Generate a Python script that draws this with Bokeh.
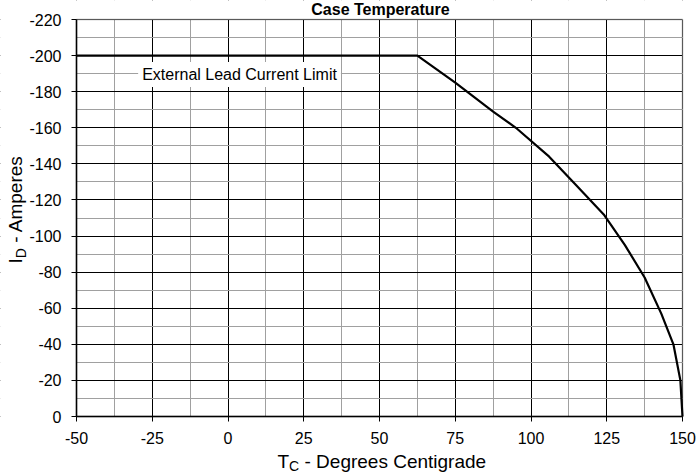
from math import pi
from bokeh.plotting import figure
from bokeh.models import Range1d, FixedTicker, Label, BoxAnnotation
from bokeh.embed import file_html
from bokeh.resources import INLINE

# ---- data ----
tc_deg = [-50, 62.5, 75, 87.5, 95, 106, 115, 124, 131, 137.5, 143, 147, 149.3, 150]
id_amps = [-200, -200, -185, -169, -160, -144, -128, -112, -95, -77, -57, -40, -20, 0]

x_ticks = [-50, -25, 0, 25, 50, 75, 100, 125, 150]
x_minor = [-50, -37.5, -25, -12.5, 0, 12.5, 25, 37.5, 50, 62.5, 75, 87.5, 100, 112.5, 125, 137.5, 150]
y_ticks = [0, -20, -40, -60, -80, -100, -120, -140, -160, -180, -200, -220]
y_minor = [0, -10, -20, -30, -40, -50, -60, -70, -80, -90, -100, -110, -120, -130, -140,
           -150, -160, -170, -180, -190, -200, -210, -220]

x_lo, x_hi = -50, 150
y_lo, y_hi = 0, -220

title_text = "Case Temperature"
limit_text = "External Lead Current Limit"
limit_x, limit_y = 3.8, -189.5

FONT = "Liberation Sans"

# ---- geometry (canvas pixels) ----
W, H = 698, 475
FL, FR, FT, FB = 76, 682, 19, 416   # where the data box sits
sx_per = (FR - FL) / (x_hi - x_lo)
sy_per = (FB - FT) / (y_lo - y_hi)


def dx(px):
    return x_lo + (px - FL) / sx_per


def dy(py):
    return y_hi + (py - FT) / sy_per


p = figure(width=W, height=H, output_backend="svg", toolbar_location=None, title=None,
           x_range=Range1d(dx(0), dx(W)), y_range=Range1d(dy(H), dy(0)),
           min_border_left=0, min_border_right=0, min_border_top=0, min_border_bottom=0)

p.background_fill_color = "white"
p.border_fill_color = "white"
p.outline_line_color = None

p.xaxis.ticker = FixedTicker(ticks=x_ticks, minor_ticks=x_minor)
p.yaxis.ticker = FixedTicker(ticks=y_ticks, minor_ticks=y_minor)
p.xaxis.major_label_overrides = {v: str(v) for v in x_ticks}
p.yaxis.major_label_overrides = {v: str(v) for v in y_ticks}
p.xaxis.fixed_location = y_lo
p.yaxis.fixed_location = x_lo
p.xaxis.bounds = (x_lo, x_hi)
p.yaxis.bounds = (y_hi, y_lo)

for ax in (p.xaxis, p.yaxis):
    ax.axis_line_color = "black"
    ax.axis_line_width = 1.5
    ax.major_tick_line_color = "black"
    ax.major_tick_in = 0
    ax.major_tick_out = 5
    ax.minor_tick_line_color = None
    ax.major_label_text_font = FONT
    ax.major_label_text_font_size = "16px"
    ax.major_label_text_color = "black"
p.xaxis.major_label_standoff = 10
p.yaxis.major_label_standoff = 10

for g in (p.xgrid, p.ygrid):
    g.grid_line_color = "black"
    g.grid_line_width = 1
    g.minor_grid_line_color = "#a0a0a0"
    g.minor_grid_line_width = 1

# white covers so that the grid stays inside the data box
for kw in (dict(right=x_lo), dict(left=x_hi), dict(bottom=y_hi), dict(top=y_lo)):
    p.add_layout(BoxAnnotation(fill_color="white", fill_alpha=1, line_color=None,
                               level="underlay", **kw))
# frame of the data box
p.add_layout(BoxAnnotation(left=x_lo, right=x_hi, top=y_hi, bottom=y_lo, fill_alpha=0,
                           fill_color=None, line_color="black", line_width=1.5,
                           level="underlay"))

p.line(tc_deg, id_amps, line_color="black", line_width=2.2)


def txt(px, py, text, size, angle=0.0, bold=False, align="left", shift=0.4):
    # py / px is the wanted baseline; Bokeh places the text box a bit lower
    if angle:
        x, y = dx(px - shift * size), dy(py)
    else:
        x, y = dx(px), dy(py - shift * size)
    p.add_layout(Label(x=x, y=y, text=text, angle=angle, text_align=align,
                       text_baseline="alphabetic", text_font=FONT,
                       text_font_style="bold" if bold else "normal",
                       text_font_size=f"{size}px", text_color="black"))


# title
txt(380, 15, title_text, 16, bold=True, align="center")

# in-plot annotation
p.add_layout(Label(x=limit_x, y=limit_y, text=limit_text, text_align="center",
                   text_baseline="middle", text_font=FONT, text_font_size="16px",
                   text_color="black", background_fill_color="white", padding=4))

# x axis label with subscript
txt(277, 469, "T", 19)
txt(288.6, 471.5, "C", 14)
txt(304, 469, "- Degrees Centigrade", 19)

# y axis label with subscript (rotated)
txt(24, 263, "I", 19, angle=pi / 2, shift=0.45)
txt(27, 257.7, "D", 14, angle=pi / 2, shift=0.45)
txt(24, 242.3, "- Amperes", 19, angle=pi / 2, shift=0.45)

open("out.html", "w").write(file_html(p, INLINE))
